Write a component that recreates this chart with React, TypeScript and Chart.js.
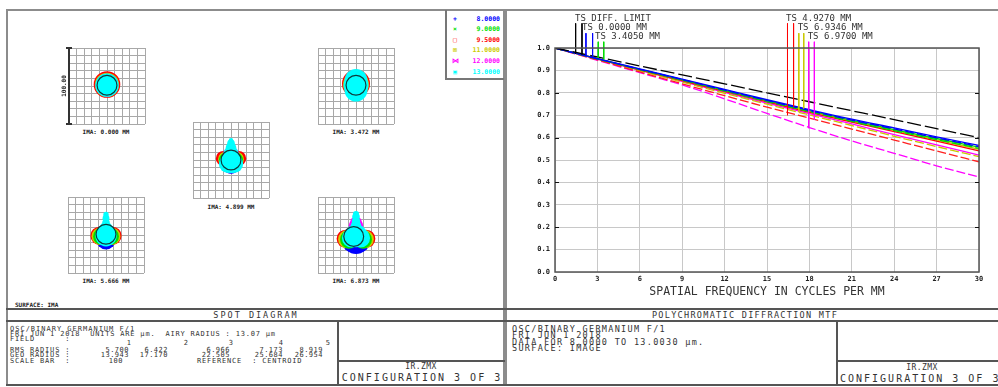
import { useEffect, useRef } from "react";
import { Chart, registerables } from "chart.js";

Chart.register(...registerables);

const MONO = '"DejaVu Sans Mono", "Liberation Mono", monospace';

// ---------------- MTF data (cycles/mm vs modulus) ----------------
const freqs = [0, 3, 6, 9, 12, 15, 18, 21, 24, 27, 30];
const mtfDiffLimit = [1.0, 0.96, 0.92, 0.88, 0.84, 0.8, 0.76, 0.72, 0.68, 0.64, 0.6];
const mtfField1T = [1.0, 0.953, 0.907, 0.861, 0.815, 0.769, 0.725, 0.682, 0.643, 0.603, 0.565];
const mtfField1S = [1.0, 0.952, 0.905, 0.859, 0.812, 0.766, 0.721, 0.678, 0.639, 0.599, 0.56];
const mtfField2T = [1.0, 0.952, 0.905, 0.858, 0.811, 0.765, 0.72, 0.677, 0.636, 0.596, 0.557];
const mtfField2S = [1.0, 0.951, 0.903, 0.856, 0.808, 0.761, 0.716, 0.672, 0.631, 0.591, 0.552];
const mtfField3T = [1.0, 0.951, 0.902, 0.854, 0.806, 0.759, 0.713, 0.669, 0.627, 0.584, 0.541];
const mtfField3S = [1.0, 0.947, 0.893, 0.84, 0.787, 0.736, 0.687, 0.638, 0.589, 0.54, 0.492];
const mtfField4T = [1.0, 0.952, 0.904, 0.857, 0.81, 0.763, 0.718, 0.674, 0.632, 0.59, 0.548];
const mtfField4S = [1.0, 0.949, 0.898, 0.848, 0.798, 0.749, 0.701, 0.654, 0.606, 0.56, 0.515];
const mtfField5T = [1.0, 0.95, 0.9, 0.851, 0.802, 0.754, 0.707, 0.661, 0.613, 0.567, 0.522];
const mtfField5S = [1.0, 0.945, 0.89, 0.835, 0.773, 0.708, 0.645, 0.585, 0.53, 0.474, 0.424];

const xTickStep = 3;
const yTickStep = 0.1;

// label leader lines (frequency, from level, to level)
const markerFreqs = [1.46, 1.91, 2.19, 2.66, 3.06, 3.45, 16.45, 16.88, 17.25, 17.6, 17.95, 18.35];
const markerTops = [1.11, 1.11, 1.066, 1.066, 1.028, 1.028, 1.11, 1.11, 1.066, 1.066, 1.028, 1.028];
const markerEnds = [0.975, 0.971, 0.968, 0.962, 0.956, 0.95, 0.7, 0.738, 0.715, 0.73, 0.642, 0.68];

const labelTexts = ["TS DIFF. LIMIT", "TS 0.0000 MM", "TS 3.4050 MM", "TS 4.9270 MM", "TS 6.9346 MM", "TS 6.9700 MM"];
const labelFreqs = [1.42, 1.91, 2.83, 16.35, 17.17, 17.88];
const labelLevels = [1.129, 1.09, 1.051, 1.129, 1.09, 1.051];

// ---------------- Spot diagram data (µm, blobs [x, y, radius]) ----------------
const fieldLabels = ["IMA: 0.000 MM", "IMA: 3.472 MM", "IMA: 4.899 MM", "IMA: 5.666 MM", "IMA: 6.873 MM"];
const wavelengths = ["8.0000", "9.0000", "9.5000", "11.0000", "12.0000", "13.0000"];
const wavelengthSymbols = ["+", "×", "□", "⊠", "⋈", "▣"];

const spotBlue = [
  [[0, 1, 14]],
  [[0, 0, 15]],
  [[0, -4, 14]],
  [[0, -6, 13]],
  [[0, -9, 16], [-5, -10, 13], [5, -10, 13]],
];
const spotGreen = [
  [[0, 1, 15]],
  [[0, 1, 16]],
  [[-6, 0, 10], [6, 0, 10]],
  [[-6, -2, 11], [6, -2, 11]],
  [[-9, -6, 12], [9, -6, 12]],
];
const spotRed = [
  [[0, 2, 17.5]],
  [[0, 3, 18.4]],
  [[-10, 2, 10], [10, 2, 10]],
  [[-8.5, -1, 12], [8.5, -1, 12]],
  [[-13.5, -5, 12], [13.5, -5, 12]],
];
const spotYellow = [
  [[0, 1.5, 16]],
  [[0, 2, 17]],
  [[-7, 1, 10], [7, 1, 10]],
  [[-7.5, -1.5, 11.5], [7.5, -1.5, 11.5]],
  [[-11.5, -5.5, 12], [11.5, -5.5, 12]],
];
const spotMagenta = [
  [[0, 1, 15]],
  [[0, 1, 15]],
  [[0, 6, 11]],
  [[0, 2, 10]],
  [[0, 12, 9.5], [0, 17, 7.5]],
];
const spotCyan = [
  [[0, 1, 15.3]],
  [[0, 7.5, 15], [0, -5.5, 15], [0, 1, 16.4]],
  [[0, -3, 14], [-4, -5, 12], [4, -5, 12], [0, 8, 10], [0, 16, 7], [0, 22, 5], [0, 26, 3]],
  [[0, -1, 14], [0, 8, 9], [0, 16, 5], [0, 22, 4.5], [0, 27, 3.5]],
  [[0, -1, 15], [-6, -4, 12.5], [6, -4, 12.5], [0, 12, 7], [0, 18, 5.5], [0, 24, 5], [0, 27.5, 4]],
];
const airyCenters = [[0, 1], [0, 1], [0, 0], [0, 1], [-3, -2]];
const airyRadius = 13.07;
const spotHalfWidth = 50;
const spotGridStep = 10;

const fieldNumbers = ["1", "2", "3", "4", "5"];
const rmsRadius = ["5.700", "6.422", "6.966", "7.173", "8.919"];
const geoRadius = ["13.943", "17.170", "22.505", "25.684", "26.954"];

// ---------------- helpers ----------------
type TxtProps = {
  x: number; y: number; s: number; ls?: number; align?: "left" | "center" | "right";
  color?: string; weight?: number; rot?: number; children: any;
};
const Txt = ({ x, y, s, ls = 0, align = "left", color = "#333", weight = 400, rot, children }: TxtProps) => (
  <div
    style={{
      position: "absolute",
      left: x,
      top: y,
      transform: `translate(${align === "center" ? "-50%" : align === "right" ? "-100%" : "0"}, -50%)${rot ? ` rotate(${rot}deg)` : ""}`,
      fontFamily: MONO,
      fontSize: s,
      letterSpacing: ls,
      lineHeight: 1,
      whiteSpace: "pre",
      color,
      fontWeight: weight,
    }}
  >
    {children}
  </div>
);

const Line = ({ x, y, w, h, c = "#555" }: { x: number; y: number; w: number; h: number; c?: string }) => (
  <div style={{ position: "absolute", left: x, top: y, width: w, height: h, background: c }} />
);

const WL_COLORS = ["#0000ff", "#00e000", "#ff0000", "#cccc00", "#ff00ff", "#00ffff"];

function SpotChart({ field, left, top }: { field: number; left: number; top: number }) {
  const ref = useRef<HTMLCanvasElement>(null);
  useEffect(() => {
    const canvas = ref.current;
    if (!canvas) return;
    const toPx = (c: any) => {
      if (!c.raw) return 0;
      const s = c.chart.scales.x;
      return Math.abs(s.getPixelForValue(c.raw.size) - s.getPixelForValue(0));
    };
    const blobSet = (blobs: number[][][], color: string) => ({
      data: blobs[field].map(([x, y, r]) => ({ x, y, size: r })),
      pointBackgroundColor: color,
      pointBorderColor: color,
      pointBorderWidth: 0,
      pointRadius: toPx,
      showLine: false,
    });
    const [ax, ay] = airyCenters[field];
    // first dataset is drawn on top
    const datasets: any[] = [
      {
        data: [{ x: ax, y: ay, size: airyRadius }],
        pointBackgroundColor: "rgba(0,0,0,0)",
        pointBorderColor: "#0d3b3b",
        pointBorderWidth: 1.2,
        pointRadius: toPx,
        showLine: false,
      },
      blobSet(spotCyan, WL_COLORS[5]),
      blobSet(spotMagenta, WL_COLORS[4]),
      blobSet(spotGreen, WL_COLORS[1]),
      blobSet(spotYellow, WL_COLORS[3]),
      blobSet(spotRed, WL_COLORS[2]),
      blobSet(spotBlue, WL_COLORS[0]),
    ];
    const axis = (isX: boolean) => ({
      type: "linear" as const,
      min: -spotHalfWidth,
      max: spotHalfWidth,
      ticks: { display: false, stepSize: spotGridStep },
      grid: { color: "#a8a8a8", lineWidth: 1, drawTicks: false },
      border: { display: false },
      afterFit: (s: any) => {
        if (isX) s.height = 0;
        else s.width = 0;
      },
    });
    const chart = new Chart(canvas, {
      type: "scatter",
      data: { datasets },
      options: {
        animation: false,
        responsive: false,
        events: [],
        layout: { padding: 1 },
        plugins: { legend: { display: false }, tooltip: { enabled: false } },
        scales: { x: axis(true), y: axis(false) },
      } as any,
    });
    return () => chart.destroy();
  }, [field]);
  return (
    <canvas
      ref={ref}
      width={78}
      height={78}
      style={{ position: "absolute", left, top, width: 78, height: 78 }}
    />
  );
}

const mtfDecor = {
  id: "mtfDecor",
  afterDraw(chart: any) {
    const { ctx, chartArea: a, scales } = chart;
    const x = scales.x;
    const y = scales.y;
    ctx.save();
    ctx.strokeStyle = "#555";
    ctx.lineWidth = 1.5;
    ctx.strokeRect(a.left, a.top, a.right - a.left, a.bottom - a.top);
    ctx.strokeStyle = "#111";
    ctx.lineWidth = 1.2;
    y.ticks.forEach((t: any) => {
      const k = Math.round(t.value * 10);
      if (k > 0 && k < 10 && k % 2 === 0) {
        const py = Math.round(y.getPixelForValue(t.value)) + 0.5;
        ctx.beginPath();
        ctx.moveTo(a.left, py);
        ctx.lineTo(a.left + 4, py);
        ctx.moveTo(a.right, py);
        ctx.lineTo(a.right - 4, py);
        ctx.stroke();
      }
    });
    ctx.fillStyle = "#333";
    ctx.font = `9px ${MONO}`;
    ctx.textBaseline = "middle";
    ctx.textAlign = "left";
    labelTexts.forEach((t, i) => {
      ctx.fillText(t, x.getPixelForValue(labelFreqs[i]), y.getPixelForValue(labelLevels[i]));
    });
    ctx.restore();
  },
};

function MtfChart() {
  const ref = useRef<HTMLCanvasElement>(null);
  useEffect(() => {
    const canvas = ref.current;
    if (!canvas) return;
    const series = [
      { v: mtfDiffLimit, c: "#000000", d: [14, 4] },
      { v: mtfField1T, c: "#0000ff", d: [] },
      { v: mtfField1S, c: "#0000ff", d: [9, 3] },
      { v: mtfField2T, c: "#00dd00", d: [] },
      { v: mtfField2S, c: "#00dd00", d: [9, 3] },
      { v: mtfField3T, c: "#ff0000", d: [] },
      { v: mtfField3S, c: "#ff2020", d: [9, 3] },
      { v: mtfField4T, c: "#c8c800", d: [] },
      { v: mtfField4S, c: "#c8c800", d: [9, 3] },
      { v: mtfField5T, c: "#ff00ff", d: [] },
      { v: mtfField5S, c: "#ff00ff", d: [9, 3] },
    ];
    const markerColors = [
      "#000000", "#000000", "#0000ff", "#0000ff", "#00dd00", "#00dd00",
      "#ff0000", "#ff0000", "#c8c800", "#c8c800", "#ff00ff", "#ff00ff",
    ];
    const datasets: any[] = [
      ...markerFreqs.map((f, i) => ({
        data: [{ x: f, y: markerTops[i] }, { x: f, y: markerEnds[i] }],
        borderColor: markerColors[i],
        borderWidth: 1,
        pointRadius: 0,
        clip: false,
      })),
      ...series.map((s) => ({
        data: freqs.map((f, i) => ({ x: f, y: s.v[i] })),
        borderColor: s.c,
        borderWidth: 1.3,
        borderDash: s.d,
        pointRadius: 0,
        cubicInterpolationMode: "monotone",
        fill: false,
      })),
    ];
    const tickFont = { family: MONO, size: 7, weight: "bold" as const };
    const chart = new Chart(canvas, {
      type: "line",
      data: { datasets },
      options: {
        animation: false,
        responsive: false,
        events: [],
        layout: { padding: { top: 37, right: 19, left: 0, bottom: 0 } },
        plugins: { legend: { display: false }, tooltip: { enabled: false } },
        scales: {
          x: {
            type: "linear",
            min: 0,
            max: 30,
            ticks: { stepSize: xTickStep, font: tickFont, color: "#222", padding: 3, maxRotation: 0, callback: (v: any) => String(v) },
            grid: { color: "#c8c8c8", lineWidth: 1, drawTicks: false },
            border: { display: false },
            title: {
              display: true,
              text: "SPATIAL FREQUENCY IN CYCLES PER MM",
              font: { family: MONO, size: 11.5 },
              color: "#333",
              padding: { top: 0, bottom: 10 },
            },
            afterFit: (s: any) => {
              s.height = 37;
            },
          },
          y: {
            type: "linear",
            min: 0,
            max: 1,
            ticks: { stepSize: yTickStep, font: tickFont, color: "#222", padding: 5, callback: (v: any) => Number(v).toFixed(1) },
            grid: { color: "#c8c8c8", lineWidth: 1, drawTicks: false },
            border: { display: false },
            afterFit: (s: any) => {
              s.width = 48;
            },
          },
        },
      } as any,
      plugins: [mtfDecor],
    });
    return () => chart.destroy();
  }, []);
  return (
    <canvas ref={ref} width={491} height={298} style={{ position: "absolute", left: 507, top: 11, width: 491, height: 298 }} />
  );
}

const spotBoxes = [
  { left: 68, top: 47, labelX: 106, labelY: 132 },
  { left: 317, top: 47, labelX: 356, labelY: 132 },
  { left: 192, top: 121, labelX: 231, labelY: 207 },
  { left: 67, top: 196, labelX: 106, labelY: 281 },
  { left: 317, top: 196, labelX: 356, labelY: 281 },
];

const rightEdges = [129, 168, 230, 283, 323];
const fieldNumEdges = [131, 188, 233, 283, 330];

export default function App() {
  const outer = "2px solid #8c8c8c";
  return (
    <div
      style={{
        position: "fixed",
        left: 0,
        top: 0,
        width: 998,
        height: 387,
        overflow: "hidden",
        background: "#fff",
      }}
    >
      {/* panel frames */}
      <div style={{ position: "absolute", left: 6, top: 9, width: 499, height: 377, border: outer, boxSizing: "border-box" }} />
      <div style={{ position: "absolute", left: 505, top: 9, width: 500, height: 377, border: outer, boxSizing: "border-box" }} />
      <Line x={6} y={308} w={499} h={2} c="#555" />
      <Line x={6} y={320} w={499} h={2} c="#555" />
      <Line x={337} y={320} w={2} h={65} c="#555" />
      <Line x={337} y={360} w={168} h={2} c="#555" />
      <Line x={505} y={308} w={500} h={2} c="#555" />
      <Line x={505} y={320} w={500} h={2} c="#555" />
      <Line x={836} y={320} w={2} h={65} c="#555" />
      <Line x={836} y={360} w={169} h={2} c="#555" />
      <Line x={6} y={384} w={999} h={2} c="#555" />

      {/* spot diagrams */}
      {spotBoxes.map((b, i) => (
        <SpotChart key={i} field={i} left={b.left} top={b.top} />
      ))}
      {spotBoxes.map((b, i) => (
        <Txt key={"l" + i} x={b.labelX} y={b.labelY} s={6} align="center" weight={700} color="#222">
          {fieldLabels[i]}
        </Txt>
      ))}
      {/* scale bar */}
      <Line x={68} y={48} w={2} h={76} c="#333" />
      <Line x={66} y={47} w={6} h={1.5} c="#333" />
      <Line x={66} y={123} w={6} h={1.5} c="#333" />
      <Txt x={64} y={86} s={6} align="center" weight={700} color="#222" rot={-90}>
        100.00
      </Txt>
      <Txt x={15} y={305} s={6} weight={700} color="#222">
        SURFACE: IMA
      </Txt>

      {/* wavelength legend */}
      <div style={{ position: "absolute", left: 445, top: 10, width: 59, height: 70, borderLeft: "2px solid #777", borderBottom: "2px solid #777", boxSizing: "border-box" }} />
      {wavelengths.map((w, i) => (
        <div key={"wl" + i}>
          <Txt x={455} y={18.5 + i * 10.6} s={6.5} align="center" weight={700} color={WL_COLORS[i]}>
            {wavelengthSymbols[i]}
          </Txt>
          <Txt x={500} y={18.5 + i * 10.6} s={6.5} align="right" weight={700} color={WL_COLORS[i]}>
            {w}
          </Txt>
        </div>
      ))}

      {/* left bottom */}
      <Txt x={256} y={315} s={8.5} ls={2} align="center">SPOT DIAGRAM</Txt>
      <Txt x={10} y={329} s={7} ls={1}>OSC/BINARY GERMANIUM F/1</Txt>
      <Txt x={10} y={334} s={7} ls={0.8}>FRI JUN 1 2018  UNITS ARE µm.  AIRY RADIUS : 13.07 µm</Txt>
      <Txt x={10} y={339} s={7} ls={0.8}>FIELD      :</Txt>
      {fieldNumbers.map((n, i) => (
        <Txt key={"fn" + i} x={fieldNumEdges[i]} y={343} s={7} align="right">{n}</Txt>
      ))}
      <Txt x={10} y={349.5} s={7} ls={0.8}>RMS RADIUS :</Txt>
      {rmsRadius.map((n, i) => (
        <Txt key={"rms" + i} x={rightEdges[i]} y={349.5} s={7} ls={0.5} align="right">{n}</Txt>
      ))}
      <Txt x={10} y={355} s={7} ls={0.8}>GEO RADIUS :</Txt>
      {geoRadius.map((n, i) => (
        <Txt key={"geo" + i} x={rightEdges[i]} y={355} s={7} ls={0.5} align="right">{n}</Txt>
      ))}
      <Txt x={10} y={361} s={7} ls={0.8}>SCALE BAR  :</Txt>
      <Txt x={123} y={361} s={7} ls={0.5} align="right">100</Txt>
      <Txt x={197} y={361} s={7} ls={0.8}>REFERENCE  : CENTROID</Txt>
      <Txt x={421} y={367} s={8} ls={0.4} align="center">IR.ZMX</Txt>
      <Txt x={422} y={378} s={10} ls={2} align="center">CONFIGURATION 3 OF 3</Txt>

      {/* MTF */}
      <MtfChart />
      <Txt x={745} y={315} s={8.5} ls={1.3} align="center">POLYCHROMATIC DIFFRACTION MTF</Txt>
      <Txt x={512} y={329} s={8.5} ls={1.3}>OSC/BINARY GERMANIUM F/1</Txt>
      <Txt x={512} y={335} s={8.5} ls={1.3}>FRI JUN 1 2018</Txt>
      <Txt x={512} y={341.5} s={8.5} ls={1.3}>DATA FOR 8.0000 TO 13.0030 µm.</Txt>
      <Txt x={512} y={348} s={8.5} ls={1.3}>SURFACE: IMAGE</Txt>
      <Txt x={922} y={368} s={8} ls={0.4} align="center">IR.ZMX</Txt>
      <Txt x={840} y={379} s={10} ls={2}>CONFIGURATION 3 OF 3</Txt>
    </div>
  );
}
